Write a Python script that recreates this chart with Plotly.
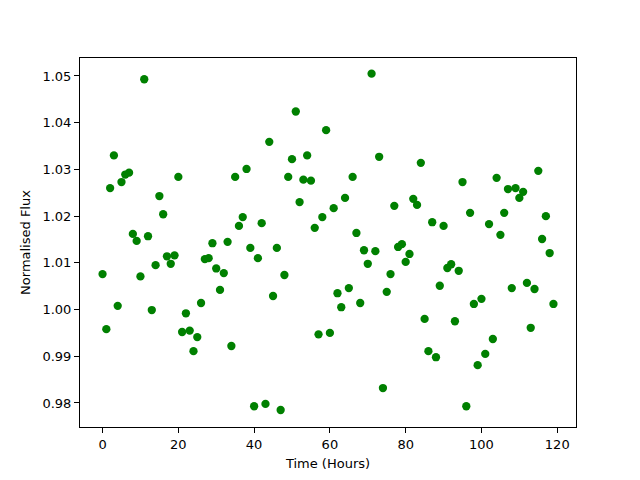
import plotly.graph_objects as go

time_hours = list(range(120))
flux = [
    1.0076, 0.9958, 1.0260, 1.0330, 1.0008, 1.0273, 1.0289, 1.0293, 1.0162, 1.0147,
    1.0071, 1.0493, 1.0157, 0.9999, 1.0095, 1.0243, 1.0204, 1.0114, 1.0098, 1.0116,
    1.0284, 0.9952, 0.9992, 0.9955, 0.9911, 0.9941, 1.0014, 1.0108, 1.0110, 1.0142,
    1.0088, 1.0042, 1.0078, 1.0145, 0.9922, 1.0284, 1.0179, 1.0198, 1.0301, 1.0132,
    0.9793, 1.0110, 1.0185, 0.9798, 1.0359, 1.0029, 1.0132, 0.9785, 1.0074, 1.0284,
    1.0322, 1.0424, 1.0230, 1.0278, 1.0330, 1.0276, 1.0175, 0.9947, 1.0198, 1.0384,
    0.9950, 1.0217, 1.0035, 1.0005, 1.0239, 1.0046, 1.0284, 1.0164, 1.0014, 1.0127,
    1.0098, 1.0505, 1.0125, 1.0327, 0.9832, 1.0038, 1.0076, 1.0222, 1.0134, 1.0140,
    1.0102, 1.0119, 1.0237, 1.0224, 1.0314, 0.9980, 0.9911, 1.0187, 0.9898, 1.0051,
    1.0179, 1.0089, 1.0097, 0.9975, 1.0083, 1.0273, 0.9793, 1.0207, 1.0012, 0.9881,
    1.0023, 0.9905, 1.0183, 0.9937, 1.0282, 1.0160, 1.0207, 1.0258, 1.0046, 1.0260,
    1.0239, 1.0252, 1.0057, 0.9961, 1.0044, 1.0297, 1.0151, 1.0200, 1.0121, 1.0012,
]

fig = go.Figure(go.Scatter(
    x=time_hours, y=flux, mode="markers",
    marker=dict(color="#008000", size=8.3, line=dict(width=0)),
))

axis_common = dict(
    showgrid=False, zeroline=False, showline=True, linecolor="black", linewidth=1,
    mirror=True, ticks="outside", ticklen=5, tickwidth=1, tickcolor="black",
    tickfont=dict(family="DejaVu Sans", size=13, color="black"),
    automargin=False,
)

fig.update_layout(
    width=640, height=480,
    margin=dict(l=72, r=72, t=50, b=61),
    paper_bgcolor="white", plot_bgcolor="white",
    showlegend=False,
    font=dict(family="DejaVu Sans", size=13, color="black"),
    xaxis=dict(axis_common, range=[-5.95, 124.95], dtick=20, tick0=0,
               title=dict(text="Time (Hours)", standoff=8,
                          font=dict(family="DejaVu Sans", size=13))),
    yaxis=dict(axis_common, range=[0.97486, 1.05385], dtick=0.01, tick0=0.98,
               tickformat=".2f",
               title=dict(text="Normalised Flux", standoff=8,
                          font=dict(family="DejaVu Sans", size=13))),
)

fig.write_html("out.html")
